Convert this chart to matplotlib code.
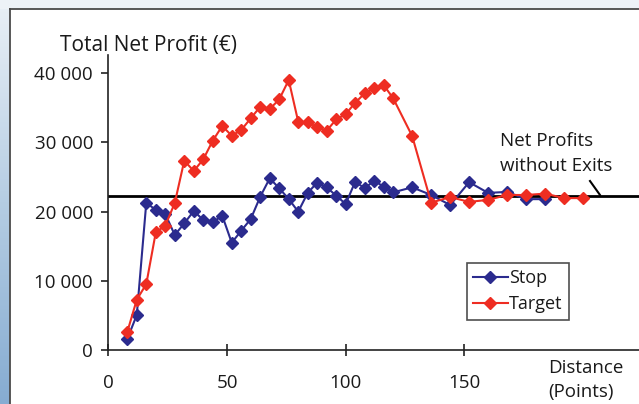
import matplotlib
matplotlib.use("Agg")
import matplotlib.pyplot as plt
import numpy as np
from matplotlib.colors import LinearSegmentedColormap

plt.rcParams['font.family'] = ['Open Sans', 'DejaVu Sans']

# ---- data ----
dist_stop = [8, 12, 16, 20, 24, 28, 32, 36, 40, 44, 48, 52, 56, 60, 64, 68, 72, 76, 80, 84,
             88, 92, 96, 100, 104, 108, 112, 116, 120, 128, 136, 144, 152, 160, 168, 176, 184]
stop = [1600, 5060, 21290, 20230, 19650, 16620, 18300, 20090, 18790, 18450,
        19410, 15500, 17240, 18930, 22150, 24810, 23370, 21820, 19990, 22700,
        24200, 23500, 22300, 21100, 24320, 23370, 24470, 23600, 22780,
        23510, 22400, 20950, 24250, 22700, 22850, 21800, 21800]
dist_target = dist_stop + [192, 200]
target = [2600, 7280, 9520, 17000, 17970, 21240, 27360, 25870, 27550, 30250,
          32370, 30970, 31790, 33480, 35160, 34820, 36220, 39010, 32990, 32900,
          32200, 31690, 33330, 34080, 35740, 37090, 37810, 38290, 36370,
          30920, 21300, 22100, 21400, 21700, 22400, 22400, 22600, 21950, 21950]
no_exit_profit = 22200
x_ticks = [0, 50, 100, 150]
y_ticks = [0, 10000, 20000, 30000, 40000]
y_labels = ['0', '10 000', '20 000', '30 000', '40 000']

W, H = 639, 404
fig = plt.figure(figsize=(W / 100, H / 100), dpi=100)
fig.patch.set_facecolor('white')

def fx(px):
    return px / W

def fy(py):
    return 1 - py / H

# background decoration: top strip, left gradient strip, panel border
bg = fig.add_axes([0, 0, 1, 1], zorder=-10)
bg.set_xlim(0, W)
bg.set_ylim(H, 0)
bg.axis('off')
bg.add_patch(plt.Rectangle((0, 0), W, 8.5, color='#edf2f7', lw=0))
cmap = LinearSegmentedColormap.from_list('strip', ['#eaf0f6', '#b5cde3', '#86acd2'])
grad = np.linspace(0, 1, 256).reshape(-1, 1)
bg.imshow(grad, cmap=cmap, extent=(0, 9.5, H, 0), aspect='auto')
bg.plot([9.5, 9.5], [8.5, H], color='#4a4a4a', lw=1.3)
bg.plot([9.5, W], [8.5, 8.5], color='#4a4a4a', lw=1.3)
bg.set_xlim(0, W)
bg.set_ylim(H, 0)

# main axes
x0px, y0px = 108.3, 350.0
xpx_per_unit = 2.374
ypx_per_unit = 69.2 / 10000
xmax = (W + 2 - x0px) / xpx_per_unit
ytop_px = 55
ymax = (y0px - ytop_px) / ypx_per_unit
ax = fig.add_axes([fx(x0px), fy(y0px), (W + 2 - x0px) / W, (y0px - ytop_px) / H])
ax.set_facecolor('none')
ax.set_xlim(0, xmax)
ax.set_ylim(0, ymax)
for s in ['top', 'right']:
    ax.spines[s].set_visible(False)
for s in ['left', 'bottom']:
    ax.spines[s].set_color('#222222')
    ax.spines[s].set_linewidth(1.2)

ax.axhline(no_exit_profit, color='black', lw=2.0, zorder=2)
ax.plot(dist_stop, stop, color='#2b2b8e', lw=1.5, marker='D', ms=6,
        mfc='#2b2b8e', mec='#2b2b8e', label='Stop', zorder=3)
ax.plot(dist_target, target, color='#ee2d22', lw=1.5, marker='D', ms=6,
        mfc='#ee2d22', mec='#ee2d22', label='Target', zorder=4)

ax.set_xticks(x_ticks)
ax.set_xticklabels([str(t) for t in x_ticks])
ax.set_yticks(y_ticks)
ax.set_yticklabels(y_labels)
ax.tick_params(axis='x', direction='inout', length=8, width=1.2, color='#222222',
               labelsize=13.5, pad=13, labelcolor='#1a1a1a')
ax.tick_params(axis='y', direction='out', length=5, width=1.2, color='#222222',
               labelsize=13.5, pad=6, labelcolor='#1a1a1a')

leg = ax.legend(loc='upper left', bbox_to_anchor=(fx(467), fy(263)),
                bbox_transform=fig.transFigure, fontsize=13, frameon=True,
                fancybox=False, borderaxespad=0, handlelength=1.9,
                handletextpad=0.08, borderpad=0.35, labelspacing=0.45)
leg.get_frame().set_edgecolor('#222222')
leg.get_frame().set_linewidth(1.2)
for t in leg.get_texts():
    t.set_color('#1a1a1a')

# texts
fig.text(fx(60), fy(46), 'Total Net Profit (€)', fontsize=15, color='#1a1a1a',
         ha='left', va='center')
fig.text(fx(548), fy(368), 'Distance', fontsize=13.5, color='#1a1a1a', ha='left', va='center')
fig.text(fx(548), fy(392), '(Points)', fontsize=13.5, color='#1a1a1a', ha='left', va='center')
fig.text(fx(500), fy(141), 'Net Profits', fontsize=13.5, color='#1a1a1a', ha='left', va='center')
fig.text(fx(500), fy(166), 'without Exits', fontsize=13.5, color='#1a1a1a', ha='left', va='center')
bg.plot([590, 600], [181, 195], color='black', lw=1.5)

fig.savefig('out.png', dpi=100, facecolor=fig.get_facecolor())
